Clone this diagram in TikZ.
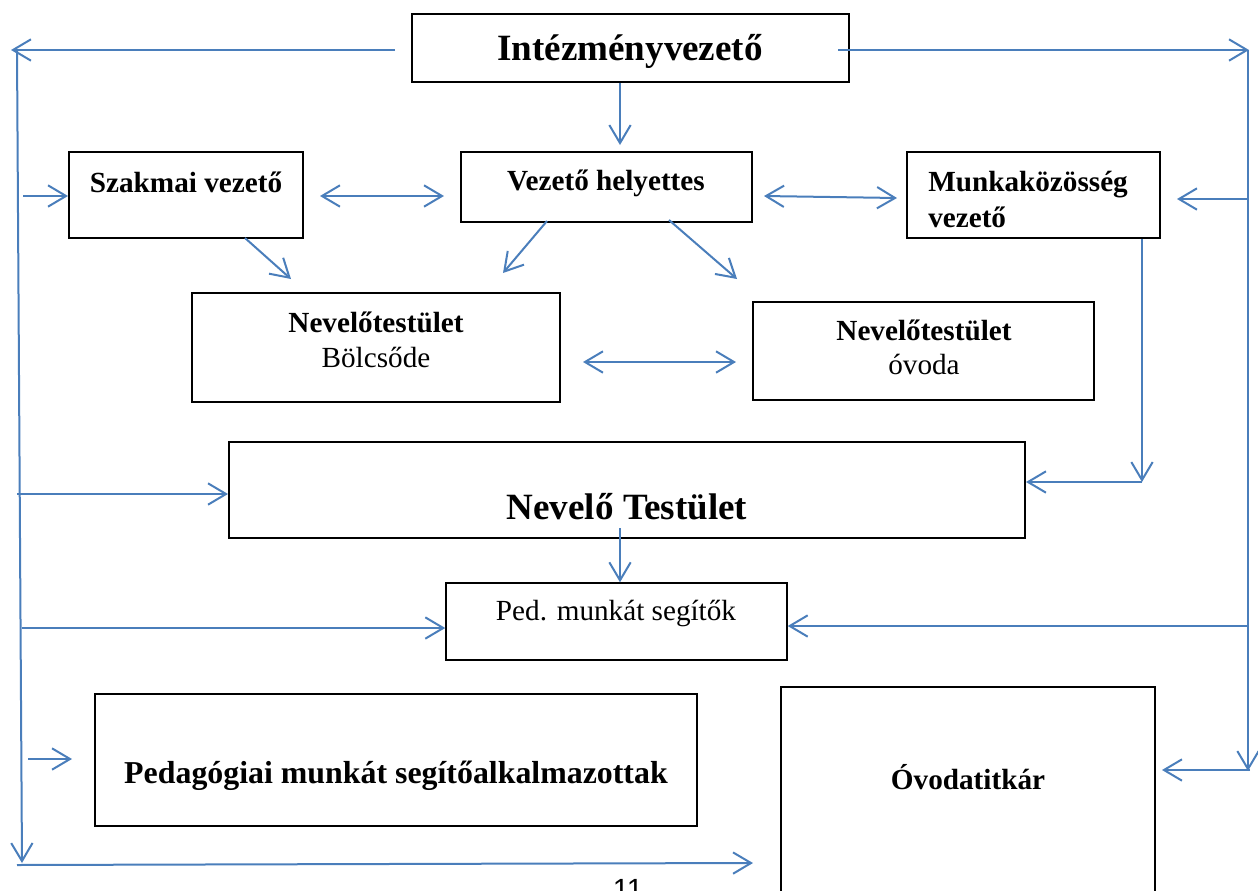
\documentclass[tikz,border=0pt]{standalone}
\usepackage{fontspec}
\setmainfont{Liberation Serif}
\newfontfamily\digitfont{Liberation Sans}
\usetikzlibrary{arrows.meta,fit}
\definecolor{conn}{RGB}{74,126,187}
\begin{document}
\begin{tikzpicture}[x=0.75pt,y=-0.75pt,
  box/.style={draw=black, line width=1.5pt, inner sep=0pt, rectangle},
  tipb/.tip={Straight Barb[length=13.5pt,width=16pt]},
  arr/.style={draw=conn, line width=1.5pt, -tipb},
  darr/.style={draw=conn, line width=1.5pt, tipb-tipb},
  txt/.style={anchor=base, inner sep=0pt, font=\fontsize{21.9}{26}\selectfont},
  btxt/.style={anchor=base, inner sep=0pt, font=\fontsize{21.9}{26}\selectfont\bfseries},
  bigtxt/.style={anchor=base, inner sep=0pt, font=\fontsize{27.8}{32}\selectfont\bfseries}]
\useasboundingbox (0,0) rectangle (1258,890);

% boxes
\node[box, fit={(412,14) (849,82)}] (iv) {};
\node[box, fit={(69,152) (303,238)}] (szak) {};
\node[box, fit={(461,152) (752,222)}] (vh) {};
\node[box, fit={(907,152) (1160,238)}] (mk) {};
\node[box, fit={(192,293) (560,402)}] (nb) {};
\node[box, fit={(753,302) (1094,400)}] (no) {};
\node[box, fit={(229,442) (1025,538)}] (nt) {};
\node[box, line width=1.1pt, fit={(446,583) (787,660)}] (ped) {};
\node[box, fit={(95,694) (697,826)}] (pma) {};
\node[box, fit={(781,687) (1155,910)}] (ot) {};

% texts
\node[bigtxt] (t-iv) at (630,60) {Intézményvezető};
\node[btxt] (t-szak) at (186,192) {Szakmai vezető};
\node[btxt] (t-vh) at (606,190) {Vezető helyettes};
\node[btxt, anchor=base west] (t-mk1) at (928,191) {Munkaközösség};
\node[btxt, anchor=base west] (t-mk2) at (928,227) {vezető};
\node[btxt] (t-nb1) at (376,332) {Nevelőtestület};
\node[txt] (t-nb2) at (376,367) {Bölcsőde};
\node[btxt] (t-no1) at (924,340) {Nevelőtestület};
\node[txt] (t-no2) at (924,374) {óvoda};
\node[bigtxt] (t-nt) at (627,519) {Nevelő Testület};
\node[txt] (t-ped) at (616,620) {Ped. munkát segítők};
\node[anchor=base, inner sep=0pt, font=\fontsize{23.9}{28}\selectfont\bfseries] (t-pma) at (396,783) {Pedagógiai munkát segítőalkalmazottak};
\node[btxt] (t-ot) at (968,789) {Óvodatitkár};
\node[anchor=base, inner sep=0pt, font=\digitfont\fontsize{21.9}{26}\selectfont] (pg) at (628,899) {11};

% trunk and free-end coordinates
\coordinate (LA) at (395,50);
\coordinate (LB) at (11,50);
\coordinate (LC) at (17,50);
\coordinate (LD) at (22,863);
\coordinate (LE) at (17,865);
\coordinate (LF) at (753,863);
\coordinate (L1) at (23,196);
\coordinate (L2) at (17,494);
\coordinate (L3) at (22,628);
\coordinate (L4) at (28,759);
\coordinate (L4t) at (72,759);
\coordinate (RA) at (838,50);
\coordinate (RB) at (1249,50);
\coordinate (RC) at (1248,50);
\coordinate (RD) at (1248,771);
\coordinate (RE) at (1250,770);
\coordinate (RF) at (1162,770);
\coordinate (R1) at (1248,199);
\coordinate (R1t) at (1177,199);
\coordinate (R2) at (1248,626);
\coordinate (MA) at (1142,482);
\coordinate (sv1) at (320,196);
\coordinate (sv2) at (444,196);
\coordinate (vm1) at (764,196);
\coordinate (vm2) at (897,198);
\coordinate (bo1) at (583,362);
\coordinate (bo2) at (736,362);
\coordinate (d1s) at (245,238);
\coordinate (d1t) at (291,279);
\coordinate (d2s) at (547,221);
\coordinate (d2t) at (503,273);
\coordinate (d3s) at (669,220);
\coordinate (d3t) at (737,279);
\coordinate (ivd) at (620,145);
\coordinate (nts) at (620,528);

% left side
\draw[arr] (LA) -- (LB);
\draw[arr] (LC) -- (LD);
\draw[arr] (LE) -- (LF);
\draw[arr] (L1) -- (szak.west |- L1);
\draw[arr] (L2) -- (nt.west |- L2);
\draw[arr] (L3) -- (ped.west |- L3);
\draw[arr] (L4) -- (L4t);

% right side
\draw[arr] (RA) -- (RB);
\draw[arr] (RC) -- (RD);
\draw[arr] (RE) -- (RF);
\draw[arr] (R1) -- (R1t);
\draw[arr] (R2) -- (ped.east |- R2);
\draw[arr] (mk.south -| MA) -- (MA);
\draw[arr] (MA) -- (nt.east |- MA);

% centre
\draw[arr] (iv.south -| ivd) -- (ivd);
\draw[darr] (sv1) -- (sv2);
\draw[darr] (vm1) -- (vm2);
\draw[darr] (bo1) -- (bo2);
\draw[arr] (d1s) -- (d1t);
\draw[arr] (d2s) -- (d2t);
\draw[arr] (d3s) -- (d3t);
\draw[arr] (nts) -- (ped.north -| nts);
\end{tikzpicture}
\end{document}
